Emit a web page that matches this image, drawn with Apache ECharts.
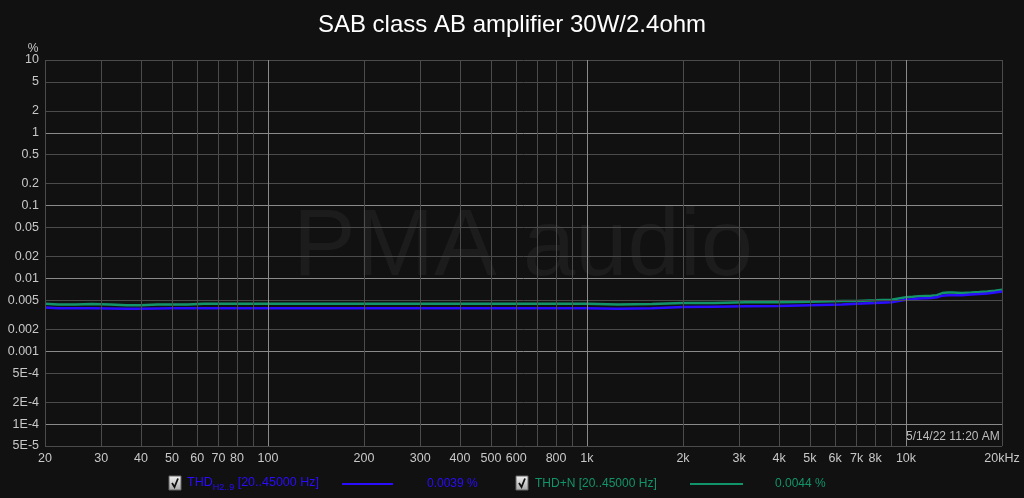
<!DOCTYPE html>
<html><head><meta charset="utf-8">
<script src="https://cdn.jsdelivr.net/npm/echarts@6/dist/echarts.min.js"></script>
<style>html,body{margin:0;padding:0;background:#111111;}#c{width:1024px;height:498px;}</style>
</head><body><div id="c"></div>
<script>
const freq = [20,22,25,28,32,36,40,45,50,56,63,71,80,90,100,125,160,200,250,315,400,500,630,800,1000,1250,1600,2000,2500,3150,4000,5000,6300,7000,8000,9000,10000,10500,11000,12000,12500,13000,13500,14000,15000,16000,17000,18000,19000,20000];
const thd = [0.0040,0.0039,0.0039,0.0039,0.00388,0.00385,0.00385,0.00388,0.0039,0.0039,0.0039,0.0039,0.0039,0.0039,0.0039,0.0039,0.0039,0.0039,0.0039,0.0039,0.0039,0.0039,0.0039,0.0039,0.0039,0.00385,0.0039,0.00405,0.0041,0.00415,0.0042,0.0043,0.0044,0.0045,0.0046,0.0047,0.0051,0.0052,0.0053,0.0054,0.0055,0.0058,0.0059,0.0059,0.0059,0.0060,0.0061,0.0062,0.0064,0.0066];
const thdn = [0.0045,0.0044,0.0044,0.00445,0.0044,0.0043,0.0043,0.0044,0.0044,0.0044,0.0045,0.0045,0.0045,0.0045,0.0045,0.0045,0.0045,0.0045,0.0045,0.0045,0.0045,0.0045,0.0045,0.0045,0.0045,0.0044,0.00445,0.0046,0.0046,0.0047,0.0047,0.0048,0.0049,0.0049,0.0050,0.0051,0.0055,0.0056,0.0057,0.0058,0.0059,0.0063,0.0064,0.0064,0.0063,0.0064,0.0065,0.0066,0.0068,0.0070];

const yTicks = [10,5,2,1,0.5,0.2,0.1,0.05,0.02,0.01,0.005,0.002,0.001,5e-4,2e-4,1e-4,5e-5];
const yTickLabels = ["10","5","2","1","0.5","0.2","0.1","0.05","0.02","0.01","0.005","0.002","0.001","5E-4","2E-4","1E-4","5E-5"];
const yMajor = [1,0.1,0.01,0.001,1e-4];
const xTicks = [20,30,40,50,60,70,80,90,100,200,300,400,500,600,700,800,900,1000,2000,3000,4000,5000,6000,7000,8000,9000,10000,20000];
const xTickLabels = ["20","30","40","50","60","70","80","","100","200","300","400","500","600","","800","","1k","2k","3k","4k","5k","6k","7k","8k","","10k","20kHz"];
const xMajor = [100,1000,10000];

const title = "SAB class AB amplifier 30W/2.4ohm";
const stamp = "5/14/22 11:20 AM";

const MINOR = '#4b4b4b', MAJOR = '#8a8a8a', LBL = '#c8c8c8';
const FONT = '"Liberation Sans", Arial, sans-serif';

const gridLines = [];
yTicks.forEach((v,i)=>{
  gridLines.push({yAxis:v, lineStyle:{color: yMajor.includes(v)?MAJOR:MINOR, width:1, type:'solid'},
    label:{show:true, position:'start', formatter: yTickLabels[i], color:LBL, fontSize:12.5, fontFamily:FONT, distance:6}});
});
xTicks.forEach((v,i)=>{
  gridLines.push({xAxis:v, lineStyle:{color: xMajor.includes(v)?MAJOR:MINOR, width:1, type:'solid'},
    label:{show: xTickLabels[i]!=='', position:'start', formatter: xTickLabels[i]||' ', color:LBL, fontSize:12.5, fontFamily:FONT, distance:6}});
});

const chart = echarts.init(document.getElementById('c'), null, {renderer:'canvas'});
const BLUE = '#2a0cff', GREEN = '#12946a';

function checkbox(x,y){
  return {type:'group', x:x, y:y, children:[
    {type:'rect', shape:{x:0,y:0,width:12,height:14}, style:{fill:new echarts.graphic.LinearGradient(0,0,0,1,[{offset:0,color:'#f4f4f4'},{offset:1,color:'#a8a8a8'}]), stroke:'#666', lineWidth:1}},
    {type:'polyline', shape:{points:[[3,7],[5.5,11],[9,2.5]]}, style:{stroke:'#111', lineWidth:1.8, fill:null}}
  ]};
}

chart.setOption({
  backgroundColor:'#111111',
  animation:false,
  title:{text:title, left:'center', top:8, textStyle:{color:'#ffffff', fontSize:24, fontWeight:'normal', fontFamily:FONT}},
  grid:{left:45, right:22, top:60, bottom:52, containLabel:false},
  xAxis:{type:'log', logBase:10, min:20, max:20000, axisLine:{show:false}, axisTick:{show:false}, axisLabel:{show:false}, splitLine:{show:false}},
  yAxis:{type:'log', logBase:10, min:5e-5, max:10, axisLine:{show:false}, axisTick:{show:false}, axisLabel:{show:false}, splitLine:{show:false}},
  graphic:[
    {type:'text', z:0, style:{text:'PMA audio', x:523, y:249, align:'center', verticalAlign:'middle', fill:'#1c1c1c', font:'94px '+FONT}},
    {type:'text', z:5, style:{text:'%', x:33, y:49, align:'center', verticalAlign:'middle', fill:LBL, font:'12px '+FONT}},
    {type:'text', z:5, style:{text:stamp, x:906, y:437, align:'left', verticalAlign:'middle', fill:'#bdbdbd', font:'12px '+FONT}},
    checkbox(169,476),
    {type:'text', z:5, style:{x:187, y:483, verticalAlign:'middle', text:'{a|THD}{s|H2..9}{a| [20..45000 Hz]}',
      rich:{a:{fill:BLUE, fontSize:12.5, fontFamily:FONT}, s:{fill:BLUE, fontSize:9, fontFamily:FONT, padding:[9,0,0,0]}}}},
    {type:'line', z:5, shape:{x1:342,y1:484,x2:393,y2:484}, style:{stroke:BLUE, lineWidth:2}},
    {type:'text', z:5, style:{text:'0.0039 %', x:427, y:484, verticalAlign:'middle', fill:BLUE, font:'12px '+FONT}},
    checkbox(516,476),
    {type:'text', z:5, style:{text:'THD+N [20..45000 Hz]', x:535, y:484, verticalAlign:'middle', fill:GREEN, font:'12px '+FONT}},
    {type:'line', z:5, shape:{x1:690,y1:484,x2:743,y2:484}, style:{stroke:GREEN, lineWidth:2}},
    {type:'text', z:5, style:{text:'0.0044 %', x:775, y:484, verticalAlign:'middle', fill:GREEN, font:'12px '+FONT}}
  ],
  series:[
    {type:'line', data:[], z:1, silent:true, markLine:{silent:true, precision:8, symbol:['none','none'], animation:false, data:gridLines}},
    {type:'line', name:'THD+N', z:3, data:freq.map((f,i)=>[f,thdn[i]]), showSymbol:false, lineStyle:{color:GREEN, width:2.5}, itemStyle:{color:GREEN}},
    {type:'line', name:'THD', z:4, data:freq.map((f,i)=>[f,thd[i]]), showSymbol:false, lineStyle:{color:BLUE, width:2.5}, itemStyle:{color:BLUE}}
  ]
});
</script></body></html>
